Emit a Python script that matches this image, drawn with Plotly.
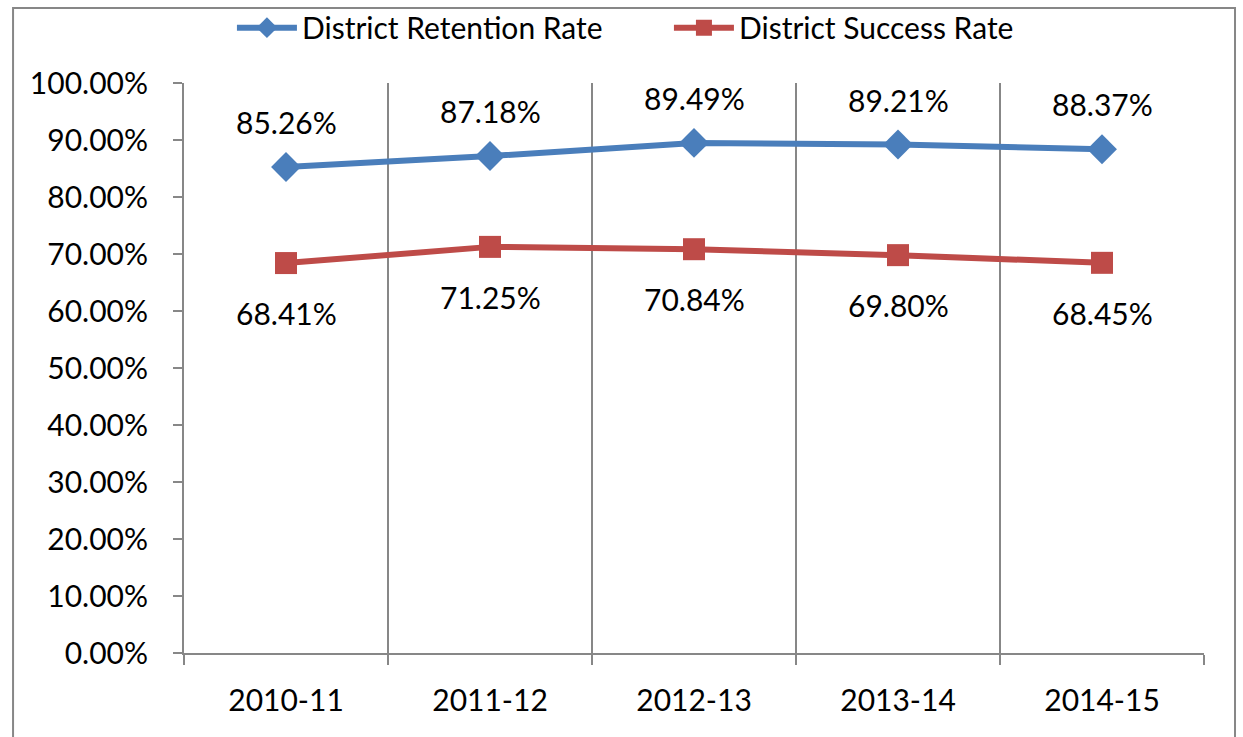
import plotly.graph_objects as go

years = ["2010-11", "2011-12", "2012-13", "2013-14", "2014-15"]
retention = [85.26, 87.18, 89.49, 89.21, 88.37]
success = [68.41, 71.25, 70.84, 69.80, 68.45]
y_ticks = list(range(0, 101, 10))

blue = "#4A7EBB"
red = "#BE4B48"
grey = "#878787"
font = "Lato"

fig = go.Figure()

fig.add_trace(go.Scatter(
    x=years, y=retention, name="District Retention Rate",
    mode="lines+markers",
    line=dict(color=blue, width=6),
    marker=dict(symbol="diamond", size=23, color=blue),
))
fig.add_trace(go.Scatter(
    x=years, y=success, name="District Success Rate",
    mode="lines+markers",
    line=dict(color=red, width=6),
    marker=dict(symbol="square", size=22, color=red),
))

# data labels: retention above, success below
for yr, v in zip(years, retention):
    fig.add_annotation(x=yr, y=v, text=f"{v:.2f}%", showarrow=False,
                       yshift=45, font=dict(size=30, color="black", family=font))
for yr, v in zip(years, success):
    fig.add_annotation(x=yr, y=v, text=f"{v:.2f}%", showarrow=False,
                       yshift=-50, font=dict(size=30, color="black", family=font))

fig.update_xaxes(
    type="category", tickson="boundaries", range=[-0.5, 4.5],
    showgrid=True, gridcolor=grey, gridwidth=2,
    showline=True, linecolor=grey, linewidth=2,
    ticks="outside", ticklen=10, tickwidth=2, tickcolor=grey,
    ticklabelstandoff=20,
    tickfont=dict(size=30, color="black", family=font),
    zeroline=False,
)
fig.update_yaxes(
    range=[0, 100], tickvals=y_ticks,
    ticktext=[f"{t:.2f}%" for t in y_ticks],
    showgrid=False, zeroline=False,
    showline=True, linecolor=grey, linewidth=2,
    ticks="outside", ticklen=9, tickwidth=2, tickcolor=grey,
    ticklabelstandoff=19,
    tickfont=dict(size=30, color="black", family=font),
)

# outer chart border
fig.add_shape(type="rect", xref="paper", yref="paper",
              x0=-0.1676, x1=1.0304, y0=-0.2, y1=1.1316,
              line=dict(color=grey, width=2), layer="below")

fig.update_layout(
    width=1243, height=737,
    margin=dict(l=184, r=39, t=83, b=84, autoexpand=False),
    plot_bgcolor="white", paper_bgcolor="white",
    showlegend=True,
    legend=dict(orientation="h", x=0.047, xanchor="left", y=1.097, yanchor="middle",
                font=dict(size=30, color="black", family=font),
                entrywidth=362, itemwidth=60, bgcolor="rgba(0,0,0,0)"),
)

fig.write_html("out.html", config={"displayModeBar": False},
               post_script="document.body.style.margin='0';")
